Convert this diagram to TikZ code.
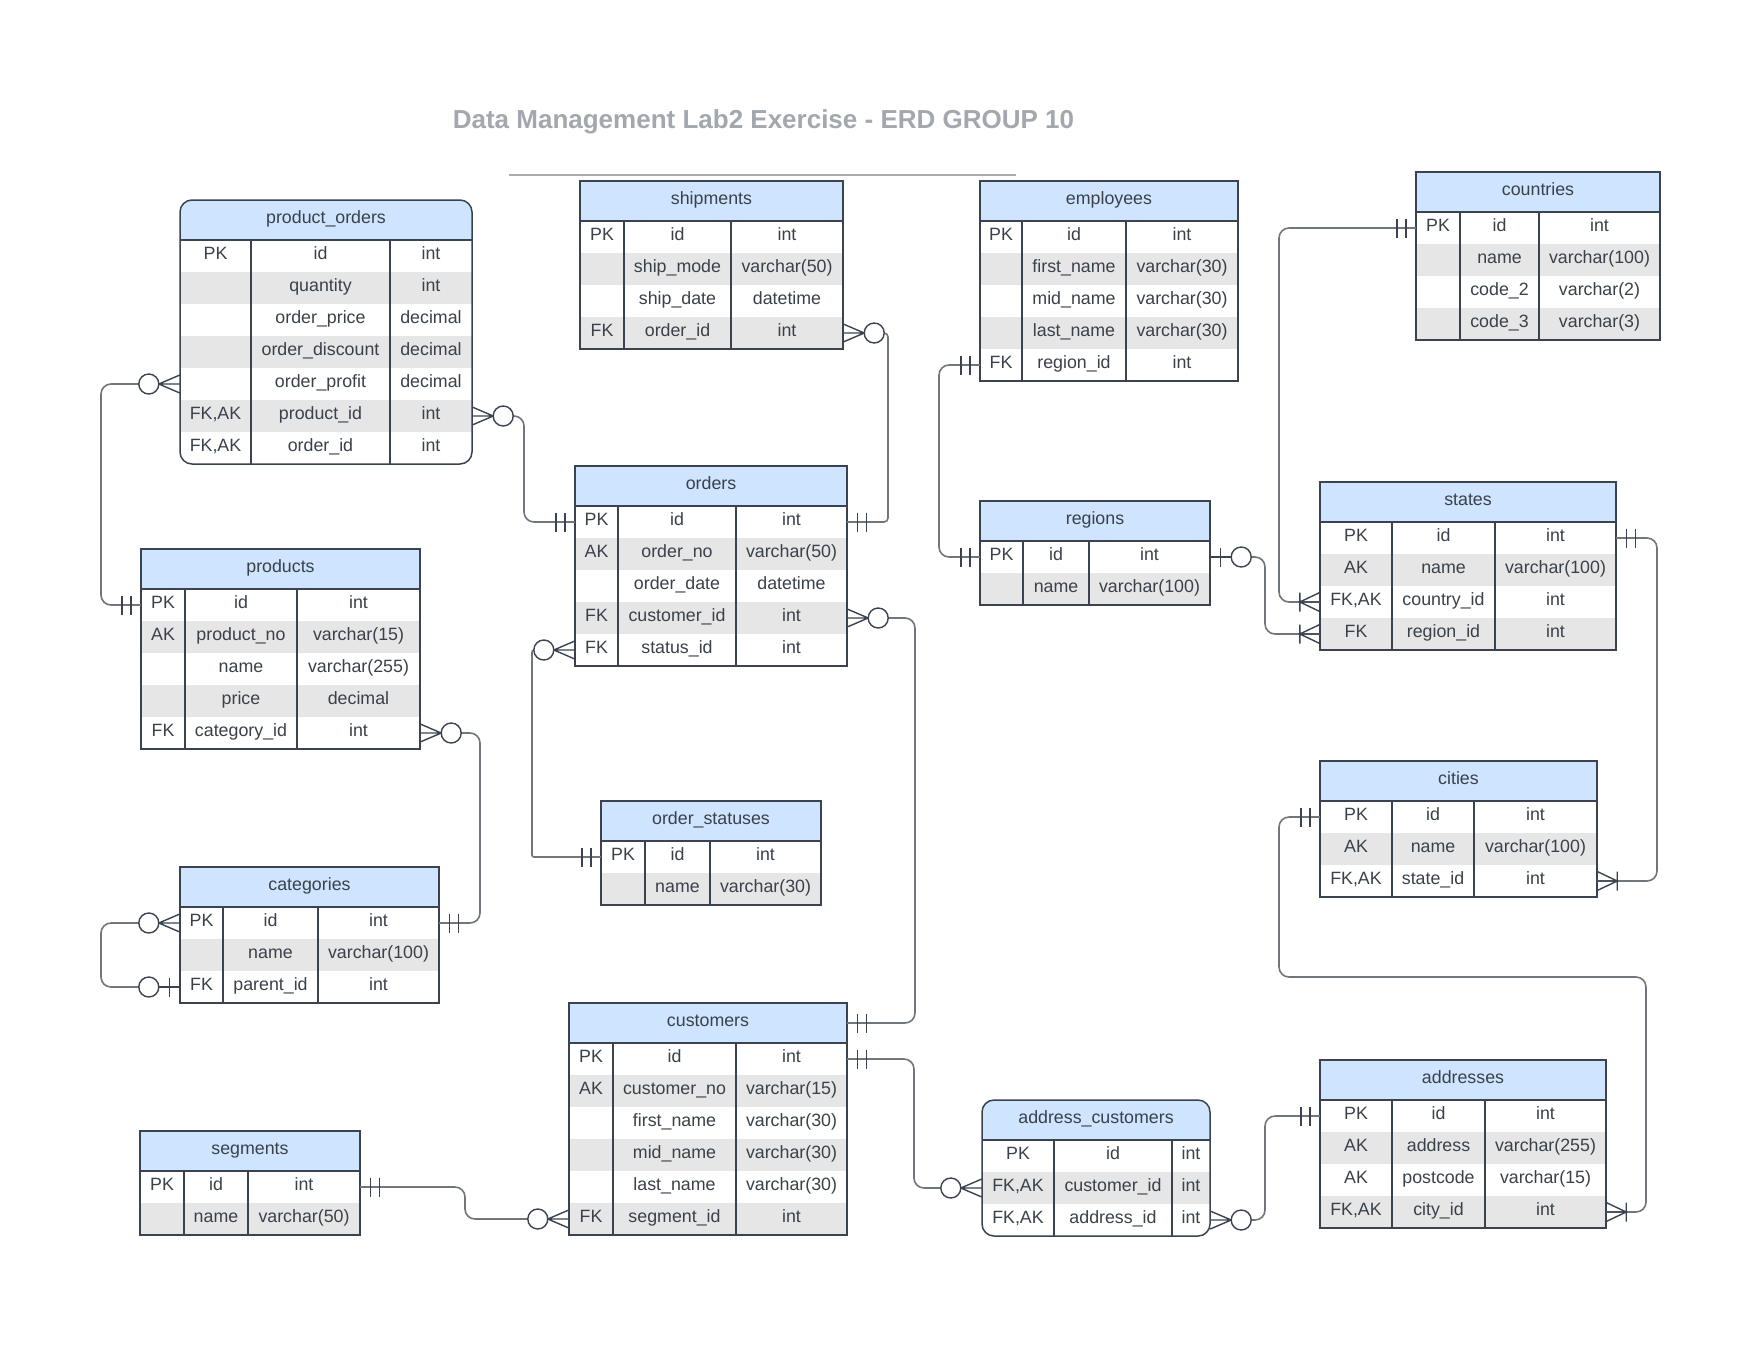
\documentclass[tikz,border=0pt]{standalone}
\usepackage{fontspec}
\setmainfont{Liberation Sans}
\definecolor{txt}{HTML}{3A414A}
\definecolor{bord}{HTML}{3B4350}
\definecolor{hdr}{HTML}{CFE4FF}
\definecolor{shd}{HTML}{E6E6E6}
\definecolor{cline}{HTML}{71757C}
\definecolor{ttl}{HTML}{A3A7AE}
\definecolor{ttlline}{HTML}{A9ACB1}
\tikzset{
 ctext/.style={inner sep=0pt, text height=12.7pt, text depth=0pt, text=txt, font=\fontsize{17.8}{20}\selectfont, anchor=center},
 rownode/.style={inner sep=0pt, minimum height=32pt, draw=none},
 hdrnode/.style={inner sep=0pt, minimum height=40pt, draw=none},
 tline/.style={draw=bord, line width=1.5pt},
 conn/.style={draw=cline, line width=1.6pt, rounded corners=10pt},
 symb/.style={draw=bord, line width=1.4pt},
 curcorner/.style={sharp corners}
}
% #1 name, #2 L, #3 T, #4 R, #5 div1, #6 div2, #7 rows, #8 title, #9 corner style
\newcommand\tabhead[9]{%
 \def\erL{#2}\def\erT{#3}\def\erR{#4}\def\erA{#5}\def\erB{#6}%
 \tikzset{curcorner/.style={#9}}%
 \pgfmathsetmacro\erBot{#3+40+32*#7}%
 \pgfmathsetmacro\erW{#4-#2}%
 \begin{scope}
  \clip[curcorner] ({\erL},{\erT}) rectangle ({\erR},{\erBot});
  \fill[hdr] ({\erL},{\erT}) rectangle ({\erR},{\erT+40});
 \end{scope}
 \node[hdrnode, minimum width=\erW pt] (#1-h) at ({(\erL+\erR)/2},{\erT+20}) {};
 \node[ctext] at ({(\erL+\erR)/2},{\erT+17.5}) {#8};
}
% #1 name, #2 index, #3 key, #4 field, #5 type
\newcommand\tabrow[5]{%
 \pgfmathsetmacro\erRC{\erT+40+32*(#2-1)+16}%
 \ifodd#2\relax\else\fill[shd] ({\erL},{\erRC-16}) rectangle ({\erR},{\erRC+16});\fi
 \node[rownode, minimum width=\erW pt] (#1-#2) at ({(\erL+\erR)/2},{\erRC}) {};
 \node[ctext] at ({(\erL+\erA)/2},{\erRC-2.5}) {#3};
 \node[ctext] at ({(\erA+\erB)/2},{\erRC-2.5}) {#4};
 \node[ctext] at ({(\erB+\erR)/2},{\erRC-2.5}) {#5};
}
\newcommand\tabframe{%
 \draw[tline] ({\erL},{\erT+40}) -- ({\erR},{\erT+40});
 \draw[tline] ({\erA},{\erT+40}) -- ({\erA},{\erBot});
 \draw[tline] ({\erB},{\erT+40}) -- ({\erB},{\erBot});
 \draw[tline,curcorner] ({\erL},{\erT}) rectangle ({\erR},{\erBot});
}
% symbols: #1 anchor, #2 direction (1 right, -1 left)
\newcommand\symManyZero[2]{%
 \begin{scope}[shift={(#1)}, xscale=#2]
  \draw[symb] (0,-9) -- (21,0) -- (0,9) (0,0) -- (21,0);
  \draw[symb, fill=white] (31,0) circle (10pt);
 \end{scope}}
\newcommand\symOne[2]{%
 \begin{scope}[shift={(#1)}, xscale=#2]
  \draw[symb] (10,-9.5) -- (10,9.5) (19,-9.5) -- (19,9.5);
 \end{scope}}
\newcommand\symManyOne[2]{%
 \begin{scope}[shift={(#1)}, xscale=#2]
  \draw[symb] (0,-9.5) -- (20,0) -- (0,9.5) (0,0) -- (20,0) (20,-9.5) -- (20,9.5);
 \end{scope}}
\newcommand\symZeroOne[2]{%
 \begin{scope}[shift={(#1)}, xscale=#2]
  \draw[symb] (0,0) -- (21,0) (10.5,-9.5) -- (10.5,9.5);
  \draw[symb, fill=white] (31,0) circle (10pt);
 \end{scope}}
\begin{document}
\begin{tikzpicture}[x=1pt,y=-1pt]
\fill[white] (0,0) rectangle (1760,1360);
\useasboundingbox (0,0) rectangle (1760,1360);

% title
\node[font=\bfseries\fontsize{26}{30}\selectfont, text=ttl, inner sep=0pt, text height=18.6pt, text depth=0pt] (title) at (763.5,119) {Data Management Lab2 Exercise - ERD GROUP 10};
\coordinate (tl1) at (509,175);
\coordinate (tl2) at (1016,175);
\draw[draw=ttlline, line width=2pt] (tl1) -- (tl2);

% product_orders
\tabhead{po}{180}{200}{472}{251}{390}{7}{product\_orders}{rounded corners=12pt}
\tabrow{po}{1}{PK}{id}{int}
\tabrow{po}{2}{}{quantity}{int}
\tabrow{po}{3}{}{order\_price}{decimal}
\tabrow{po}{4}{}{order\_discount}{decimal}
\tabrow{po}{5}{}{order\_profit}{decimal}
\tabrow{po}{6}{FK,AK}{product\_id}{int}
\tabrow{po}{7}{FK,AK}{order\_id}{int}
\tabframe

% shipments
\tabhead{sh}{580}{181}{843}{624}{731}{4}{shipments}{sharp corners}
\tabrow{sh}{1}{PK}{id}{int}
\tabrow{sh}{2}{}{ship\_mode}{varchar(50)}
\tabrow{sh}{3}{}{ship\_date}{datetime}
\tabrow{sh}{4}{FK}{order\_id}{int}
\tabframe

% employees
\tabhead{em}{980}{181}{1238}{1022}{1126}{5}{employees}{sharp corners}
\tabrow{em}{1}{PK}{id}{int}
\tabrow{em}{2}{}{first\_name}{varchar(30)}
\tabrow{em}{3}{}{mid\_name}{varchar(30)}
\tabrow{em}{4}{}{last\_name}{varchar(30)}
\tabrow{em}{5}{FK}{region\_id}{int}
\tabframe

% countries
\tabhead{co}{1416}{172}{1660}{1460}{1539}{4}{countries}{sharp corners}
\tabrow{co}{1}{PK}{id}{int}
\tabrow{co}{2}{}{name}{varchar(100)}
\tabrow{co}{3}{}{code\_2}{varchar(2)}
\tabrow{co}{4}{}{code\_3}{varchar(3)}
\tabframe

% orders
\tabhead{or}{575}{466}{847}{618}{736}{5}{orders}{sharp corners}
\tabrow{or}{1}{PK}{id}{int}
\tabrow{or}{2}{AK}{order\_no}{varchar(50)}
\tabrow{or}{3}{}{order\_date}{datetime}
\tabrow{or}{4}{FK}{customer\_id}{int}
\tabrow{or}{5}{FK}{status\_id}{int}
\tabframe

% regions
\tabhead{rg}{980}{501}{1210}{1023}{1089}{2}{regions}{sharp corners}
\tabrow{rg}{1}{PK}{id}{int}
\tabrow{rg}{2}{}{name}{varchar(100)}
\tabframe

% states
\tabhead{st}{1320}{482}{1616}{1392}{1495}{4}{states}{sharp corners}
\tabrow{st}{1}{PK}{id}{int}
\tabrow{st}{2}{AK}{name}{varchar(100)}
\tabrow{st}{3}{FK,AK}{country\_id}{int}
\tabrow{st}{4}{FK}{region\_id}{int}
\tabframe

% products
\tabhead{pr}{141}{549}{420}{185}{297}{5}{products}{sharp corners}
\tabrow{pr}{1}{PK}{id}{int}
\tabrow{pr}{2}{AK}{product\_no}{varchar(15)}
\tabrow{pr}{3}{}{name}{varchar(255)}
\tabrow{pr}{4}{}{price}{decimal}
\tabrow{pr}{5}{FK}{category\_id}{int}
\tabframe

% cities
\tabhead{ci}{1320}{761}{1597}{1392}{1474}{3}{cities}{sharp corners}
\tabrow{ci}{1}{PK}{id}{int}
\tabrow{ci}{2}{AK}{name}{varchar(100)}
\tabrow{ci}{3}{FK,AK}{state\_id}{int}
\tabframe

% order_statuses
\tabhead{os}{601}{801}{821}{645}{710}{2}{order\_statuses}{sharp corners}
\tabrow{os}{1}{PK}{id}{int}
\tabrow{os}{2}{}{name}{varchar(30)}
\tabframe

% categories
\tabhead{ca}{180}{867}{439}{223}{318}{3}{categories}{sharp corners}
\tabrow{ca}{1}{PK}{id}{int}
\tabrow{ca}{2}{}{name}{varchar(100)}
\tabrow{ca}{3}{FK}{parent\_id}{int}
\tabframe

% customers
\tabhead{cu}{569}{1003}{847}{613}{736}{6}{customers}{sharp corners}
\tabrow{cu}{1}{PK}{id}{int}
\tabrow{cu}{2}{AK}{customer\_no}{varchar(15)}
\tabrow{cu}{3}{}{first\_name}{varchar(30)}
\tabrow{cu}{4}{}{mid\_name}{varchar(30)}
\tabrow{cu}{5}{}{last\_name}{varchar(30)}
\tabrow{cu}{6}{FK}{segment\_id}{int}
\tabframe

% segments
\tabhead{sg}{140}{1131}{360}{184}{248}{2}{segments}{sharp corners}
\tabrow{sg}{1}{PK}{id}{int}
\tabrow{sg}{2}{}{name}{varchar(50)}
\tabframe

% address_customers
\tabhead{ac}{982}{1100}{1210}{1054}{1172}{3}{address\_customers}{rounded corners=12pt}
\tabrow{ac}{1}{PK}{id}{int}
\tabrow{ac}{2}{FK,AK}{customer\_id}{int}
\tabrow{ac}{3}{FK,AK}{address\_id}{int}
\tabframe

% addresses
\tabhead{ad}{1320}{1060}{1606}{1392}{1485}{4}{addresses}{sharp corners}
\tabrow{ad}{1}{PK}{id}{int}
\tabrow{ad}{2}{AK}{address}{varchar(255)}
\tabrow{ad}{3}{AK}{postcode}{varchar(15)}
\tabrow{ad}{4}{FK,AK}{city\_id}{int}
\tabframe

% lanes
\coordinate (k1) at (101,0);
\coordinate (k2) at (524,0);
\coordinate (k3) at (888,0);
\coordinate (k4) at (915,0);
\coordinate (k5) at (532,0);
\coordinate (k6) at (480,0);
\coordinate (k8) at (465,0);
\coordinate (k9) at (914,0);
\coordinate (k10) at (1265,0);
\coordinate (k11) at (939,0);
\coordinate (k13) at (1279,0);
\coordinate (k14) at (1657,0);
\coordinate (k15a) at (1279,977);
\coordinate (k15b) at (1646,977);

% connectors
\draw[conn] ([xshift=-41pt]po-5.west) -- (k1 |- po-5.west) -- (k1 |- pr-1.west) -- (pr-1.west);
\draw[conn] ([xshift=41pt]po-6.east) -- (k2 |- po-6.east) -- (k2 |- or-1.west) -- (or-1.west);
\draw[conn, rounded corners=4pt] ([xshift=41pt]sh-4.east) -- (k3 |- sh-4.east) -- (k3 |- or-1.east) -- (or-1.east);
\draw[conn] ([xshift=41pt]or-4.east) -- (k4 |- or-4.east) -- (k4 |- cu-h.east) -- (cu-h.east);
\draw[conn, rounded corners=2pt] ([xshift=-41pt]or-5.west) -- (k5 |- or-5.west) -- (k5 |- os-1.west) [rounded corners=10pt] -- (os-1.west);
\draw[conn] ([xshift=41pt]pr-5.east) -- (k6 |- pr-5.east) -- (k6 |- ca-1.east) -- (ca-1.east);
\draw[conn] ([xshift=-41pt]ca-1.west) -- (k1 |- ca-1.west) -- (k1 |- ca-3.west) -- ([xshift=-41pt]ca-3.west);
\draw[conn] (sg-1.east) -- (k8 |- sg-1.east) -- (k8 |- cu-6.west) -- ([xshift=-41pt]cu-6.west);
\draw[conn] (cu-1.east) -- (k9 |- cu-1.east) -- (k9 |- ac-2.west) -- ([xshift=-41pt]ac-2.west);
\draw[conn] ([xshift=41pt]ac-3.east) -- (k10 |- ac-3.east) -- (k10 |- ad-1.west) -- (ad-1.west);
\draw[conn] (em-5.west) -- (k11 |- em-5.west) -- (k11 |- rg-1.west) -- (rg-1.west);
\draw[conn] ([xshift=41pt]rg-1.east) -- (k10 |- rg-1.east) -- (k10 |- st-4.west) -- (st-4.west);
\draw[conn] (co-1.west) -- (k13 |- co-1.west) -- (k13 |- st-3.west) -- (st-3.west);
\draw[conn] (st-1.east) -- (k14 |- st-1.east) -- (k14 |- ci-3.east) -- (ci-3.east);
\draw[conn] (ci-1.west) -- (k15a |- ci-1.west) -- (k15a) -- (k15b) -- (k15b |- ad-4.east) -- (ad-4.east);

% end symbols
\symManyZero{po-5.west}{-1}
\symOne{pr-1.west}{-1}
\symManyZero{po-6.east}{1}
\symOne{or-1.west}{-1}
\symManyZero{sh-4.east}{1}
\symOne{or-1.east}{1}
\symManyZero{or-4.east}{1}
\symOne{cu-h.east}{1}
\symManyZero{or-5.west}{-1}
\symOne{os-1.west}{-1}
\symManyZero{pr-5.east}{1}
\symOne{ca-1.east}{1}
\symManyZero{ca-1.west}{-1}
\symZeroOne{ca-3.west}{-1}
\symOne{sg-1.east}{1}
\symManyZero{cu-6.west}{-1}
\symOne{cu-1.east}{1}
\symManyZero{ac-2.west}{-1}
\symManyZero{ac-3.east}{1}
\symOne{ad-1.west}{-1}
\symOne{em-5.west}{-1}
\symOne{rg-1.west}{-1}
\symZeroOne{rg-1.east}{1}
\symManyOne{st-4.west}{-1}
\symOne{co-1.west}{-1}
\symManyOne{st-3.west}{-1}
\symOne{st-1.east}{1}
\symManyOne{ci-3.east}{1}
\symOne{ci-1.west}{-1}
\symManyOne{ad-4.east}{1}
\end{tikzpicture}
\end{document}
